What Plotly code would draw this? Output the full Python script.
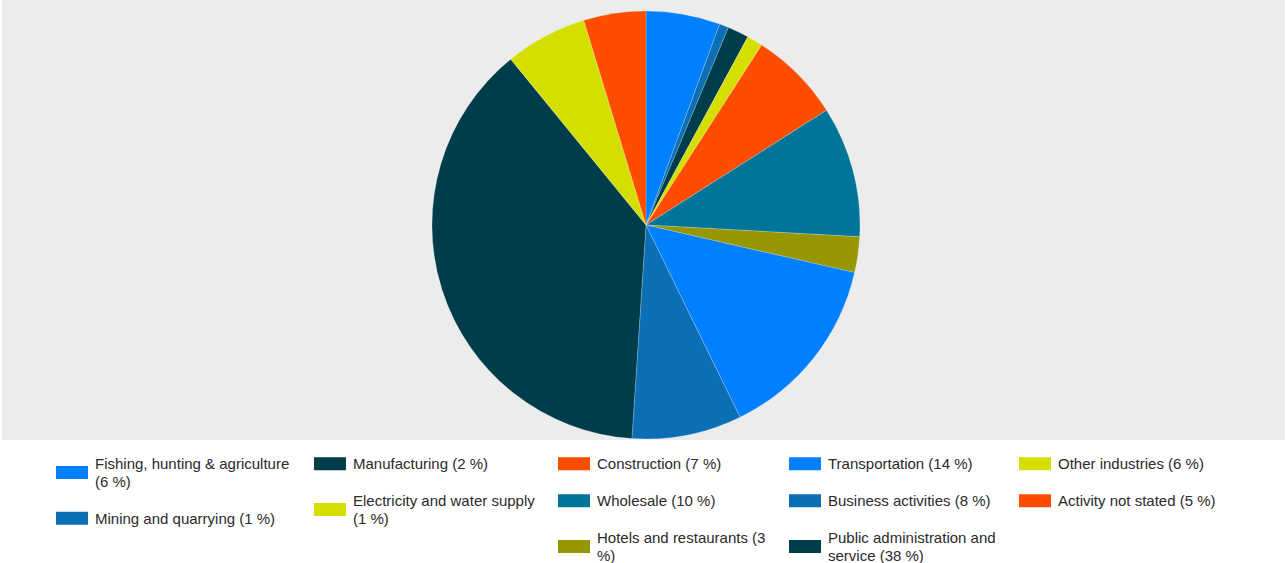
import plotly.graph_objects as go

categories = [
    "Fishing, hunting & agriculture", "Mining and quarrying", "Manufacturing",
    "Electricity and water supply", "Construction", "Wholesale",
    "Hotels and restaurants", "Transportation", "Business activities",
    "Public administration and service", "Other industries", "Activity not stated",
]
values = [5.6, 0.7, 1.6, 1.2, 6.9, 9.9, 2.7, 14.2, 8.3, 38.1, 6.2, 4.7]
colors = ["#0080ff", "#0a6fb5", "#003d4c", "#d4df00", "#ff4d00", "#00759a",
          "#969600", "#0080ff", "#0a6fb5", "#003d4c", "#d4df00", "#ff4d00"]
# number of words on the first legend line (0 = single line)
wrap_words = [4, 0, 0, 4, 0, 0, 4, 0, 0, 3, 0, 0]
legend_columns = [[0, 1], [2, 3], [4, 5, 6], [7, 8, 9], [10, 11]]

W, H = 1287, 563

fig = go.Figure(go.Pie(
    labels=categories, values=values, sort=False, direction="clockwise",
    rotation=0, textinfo="none", hoverinfo="label+percent",
    marker=dict(colors=colors, line=dict(color="rgba(255,255,255,0.35)", width=0.6)),
    domain=dict(x=[432 / W, 860 / W], y=[1 - 439 / H, 1 - 11 / H]),
    showlegend=False,
))

shapes = [dict(type="rect", xref="paper", yref="paper", x0=2 / W, x1=1285 / W,
               y0=1 - 440 / H, y1=1, fillcolor="#ececec", line=dict(width=0), layer="below")]
annotations = []

col_x = [56, 314, 558, 789, 1019]
line_h, pad, y_start = 17.5, 19.5, 455
font = dict(family="Liberation Sans, Arial", size=15, color="#2a2a2a")
for ci, col in enumerate(legend_columns):
    y = y_start
    for idx in col:
        label = f"{categories[idx]} ({round(values[idx])} %)"
        words = label.split(" ")
        if wrap_words[idx]:
            lines = [" ".join(words[:wrap_words[idx]]), " ".join(words[wrap_words[idx]:])]
        else:
            lines = [label]
        nlines = len(lines)
        cy = y + nlines * line_h / 2
        x0 = col_x[ci]
        shapes.append(dict(type="rect", xref="paper", yref="paper",
                           x0=x0 / W, x1=(x0 + 32) / W,
                           y0=1 - (cy + 6.5) / H, y1=1 - (cy - 6.5) / H,
                           fillcolor=colors[idx], line=dict(width=0)))
        for li, txt in enumerate(lines):
            ly = cy + (li - (nlines - 1) / 2) * line_h
            annotations.append(dict(xref="paper", yref="paper", x=(x0 + 38) / W, y=1 - ly / H,
                                    text=txt, showarrow=False, xanchor="left", yanchor="middle",
                                    align="left", borderpad=0, font=font))
        y += nlines * line_h + pad

fig.update_layout(
    width=W, height=H, margin=dict(l=0, r=0, t=0, b=0),
    paper_bgcolor="white", plot_bgcolor="white",
    shapes=shapes, annotations=annotations,
)
fig.write_html("out.html")
